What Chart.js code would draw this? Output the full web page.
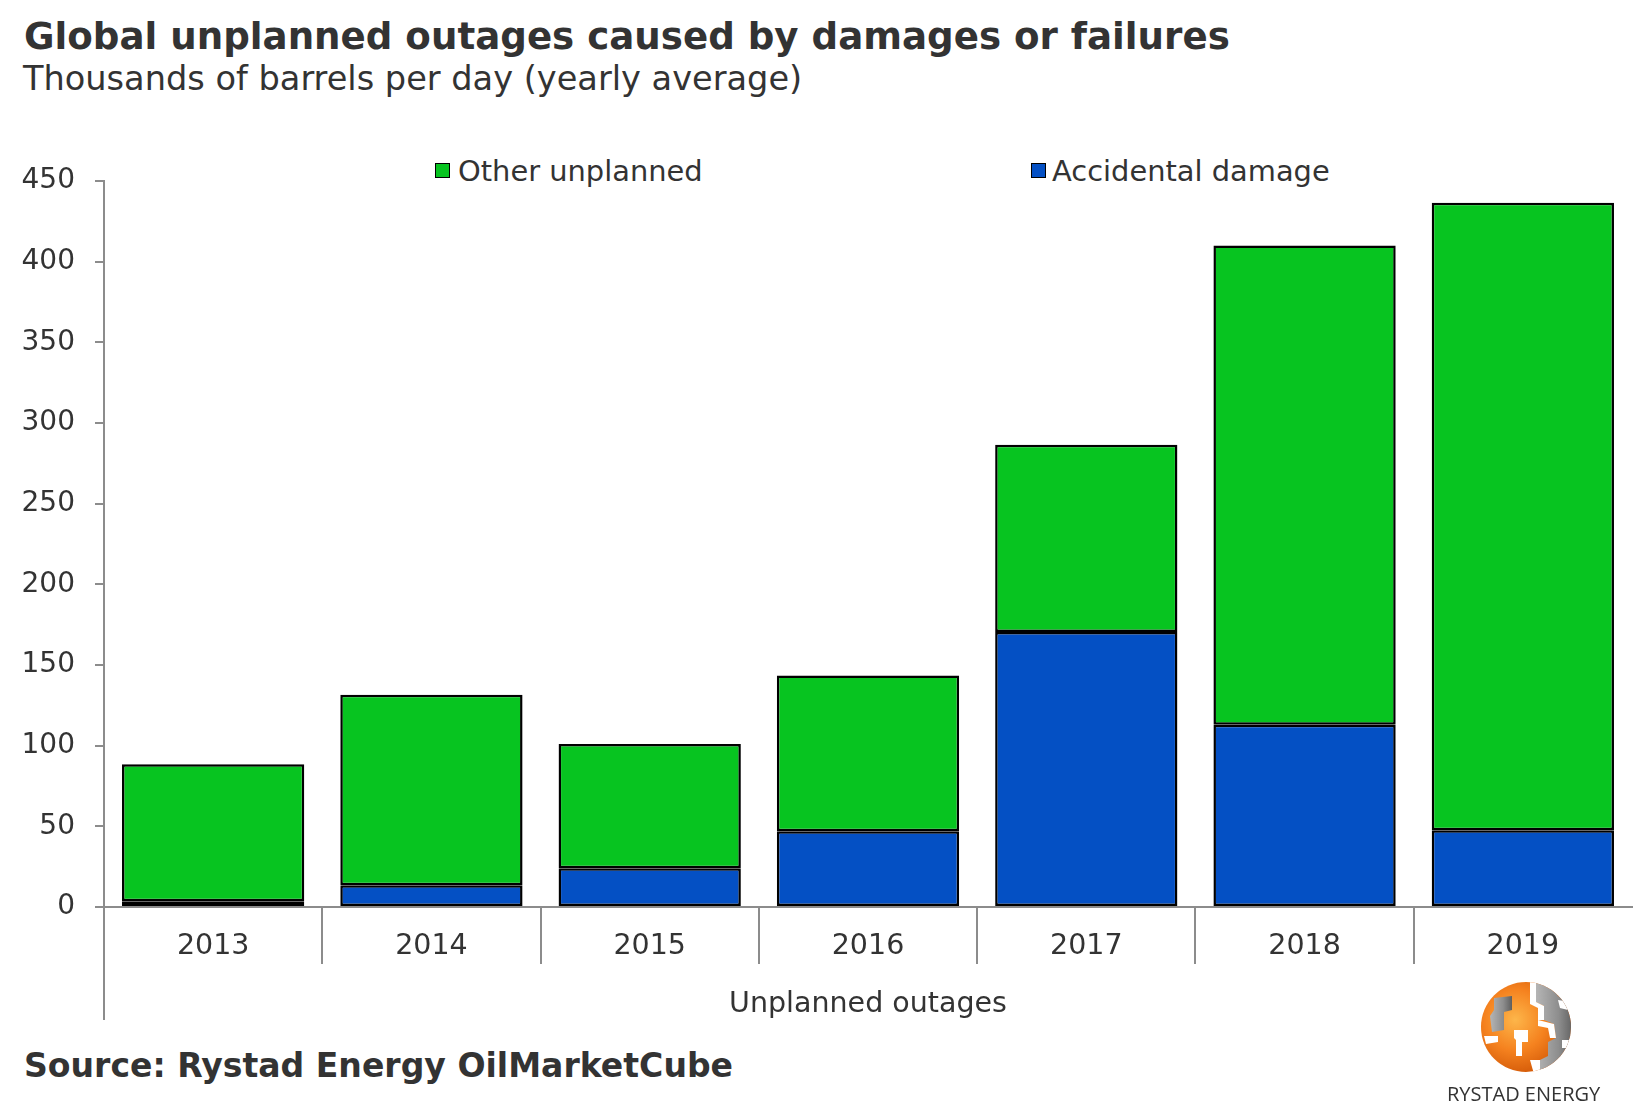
<!DOCTYPE html>
<html>
<head>
<meta charset="utf-8">
<title>Global unplanned outages caused by damages or failures</title>
<script src="https://cdn.jsdelivr.net/npm/chart.js@4.4.0/dist/chart.umd.min.js"></script>
<style>
    html, body { margin: 0; padding: 0; background: #fff; }
    body {
        width: 1633px;
        height: 1105px;
        position: relative;
        overflow: hidden;
        font-family: 'DejaVu Sans', Verdana, sans-serif;
        color: #333;
    }
    .txt { position: absolute; line-height: 1; white-space: nowrap; }
    .title { left: 24px; top: 18px; font-size: 37.2px; font-weight: bold; }
    .subtitle { left: 23px; top: 61.7px; font-size: 33.6px; }
    .source { left: 24px; top: 1049px; font-size: 33.1px; font-weight: bold; }
    .legend-box { position: absolute; width: 13px; height: 13px; border: 1.5px solid #000; }
    .legend-text { font-size: 28.9px; top: 157px; }
    #chartWrap { position: absolute; left: 0; top: 120px; width: 1633px; height: 910px; }
    .brand { left: 1447px; top: 1084px; font-family: 'Open Sans', sans-serif; font-size: 20px; }
</style>
</head>
<body>
<div class="txt title">Global unplanned outages caused by damages or failures</div>
<div class="txt subtitle">Thousands of barrels per day (yearly average)</div>

<div class="legend-box" id="legendOther" style="left:435px; top:163px;"></div>
<div class="txt legend-text" style="left:458px;">Other unplanned</div>
<div class="legend-box" id="legendAccidental" style="left:1031px; top:163px;"></div>
<div class="txt legend-text" style="left:1052px;">Accidental damage</div>

<div id="chartWrap"><canvas id="outagesChart"></canvas></div>

<div class="txt source">Source: Rystad Energy OilMarketCube</div>

<svg style="position:absolute; left:1478px; top:980px;" width="96" height="96" viewBox="0 0 96 96">
    <defs>
        <radialGradient id="orangeGrad" cx="38%" cy="42%" r="62%">
            <stop offset="0" stop-color="#fdb64a"/>
            <stop offset="0.55" stop-color="#f5821f"/>
            <stop offset="1" stop-color="#d45a08"/>
        </radialGradient>
        <linearGradient id="greyGrad" x1="0" y1="0" x2="1" y2="0">
            <stop offset="0" stop-color="#b5b5b5"/>
            <stop offset="0.6" stop-color="#8d8d8d"/>
            <stop offset="1" stop-color="#5e5e5e"/>
        </linearGradient>
        <clipPath id="globeClip"><circle cx="48" cy="47" r="45"/></clipPath>
    </defs>
    <circle cx="48" cy="47" r="45" fill="url(#orangeGrad)"/>
    <g clip-path="url(#globeClip)">
        <polygon points="58,2 74,6 80,16 92,22 96,40 94,62 86,80 70,92 62,94 62,80 70,76 70,62 78,58 76,44 66,40 66,26 58,22" fill="url(#greyGrad)"/>
        <polygon points="16,18 34,16 34,30 26,32 26,50 14,52 12,36 16,30" fill="url(#greyGrad)"/>
        <polygon points="52,2 58,2 58,22 66,26 66,40 60,40 60,28 52,24" fill="#fff"/>
        <polygon points="60,40 76,44 78,58 72,58 70,48 60,46" fill="#fff"/>
        <polygon points="36,50 50,50 50,62 44,62 44,76 38,76 38,60 36,58" fill="#fff"/>
        <polygon points="52,80 62,80 62,94 56,94" fill="#fff"/>
        <polygon points="6,56 20,56 20,62 8,64" fill="#fff"/>
        <polygon points="80,20 92,22 90,30 82,28" fill="#fff"/>
        <polygon points="84,60 96,60 94,68 84,68" fill="#fff"/>
    </g>
</svg>
<div class="txt brand">RYSTAD ENERGY</div>

<script>
// Chart data
const years = ['2013', '2014', '2015', '2016', '2017', '2018', '2019'];
const accidentalDamage = [3.5, 13.5, 24, 47, 170.5, 113, 47.5];
const otherUnplanned = [85, 118, 77, 96.5, 116, 297, 389];
const yTickValues = [0, 50, 100, 150, 200, 250, 300, 350, 400, 450];
const groupLabels = ['Unplanned outages'];

const GREEN = '#07c420';
const BLUE = '#0450c4';
const AXIS_GREY = '#8c8c8c';
const TEXT = '#333333';
const FONT = "'DejaVu Sans', Verdana, sans-serif";

document.addEventListener('DOMContentLoaded', function() {
    document.getElementById('legendOther').style.background = GREEN;
    document.getElementById('legendAccidental').style.background = BLUE;
    initializeOutagesChart();
});

// the closing separator (no tick of its own) sits on the picture's right edge, so hide it
function separatorColor(context) {
    return context.type === 'tick' ? AXIS_GREY : 'rgba(0,0,0,0)';
}

function initializeOutagesChart() {
    const ctx = document.getElementById('outagesChart').getContext('2d');
    new Chart(ctx, {
        type: 'bar',
        data: {
            labels: years,
            datasets: [
                {
                    label: 'Accidental damage',
                    data: accidentalDamage,
                    backgroundColor: BLUE,
                    borderColor: '#000',
                    borderWidth: 2.5,
                    borderSkipped: false,
                    categoryPercentage: 1.0,
                    barPercentage: 0.835
                },
                {
                    label: 'Other unplanned',
                    data: otherUnplanned,
                    backgroundColor: GREEN,
                    borderColor: '#000',
                    borderWidth: 2.5,
                    borderSkipped: false,
                    categoryPercentage: 1.0,
                    barPercentage: 0.835
                }
            ]
        },
        options: {
            responsive: true,
            maintainAspectRatio: false,
            animation: false,
            layout: {
                padding: { top: 61, right: 1, bottom: 12, left: 0 }
            },
            plugins: {
                legend: { display: false },
                title: { display: false },
                tooltip: { enabled: false }
            },
            scales: {
                x: {
                    stacked: true,
                    weight: 0,
                    offset: true,
                    afterFit: function(scale) { scale.height = 56; },
                    grid: {
                        offset: true,
                        drawOnChartArea: false,
                        drawTicks: true,
                        tickLength: 57,
                        color: separatorColor,
                        lineWidth: 2
                    },
                    border: { display: true, color: AXIS_GREY, width: 2 },
                    ticks: {
                        color: TEXT,
                        padding: -35,
                        maxRotation: 0,
                        font: { family: FONT, size: 28.5 }
                    }
                },
                x2: {
                    type: 'category',
                    position: 'bottom',
                    labels: groupLabels,
                    weight: 1,
                    offset: true,
                    afterFit: function(scale) { scale.height = 55; },
                    grid: {
                        offset: true,
                        drawOnChartArea: false,
                        drawTicks: true,
                        tickLength: 57,
                        color: separatorColor,
                        lineWidth: 2
                    },
                    border: { display: false },
                    ticks: {
                        color: TEXT,
                        padding: -33,
                        maxRotation: 0,
                        font: { family: FONT, size: 28.5 }
                    }
                },
                y: {
                    stacked: true,
                    min: 0,
                    max: 450,
                    afterFit: function(scale) { scale.width = 104; },
                    afterBuildTicks: function(scale) {
                        scale.ticks = yTickValues.map(function(v) { return { value: v }; });
                    },
                    grid: {
                        drawOnChartArea: false,
                        drawTicks: true,
                        tickLength: 9,
                        color: AXIS_GREY,
                        lineWidth: 2
                    },
                    border: { display: true, color: AXIS_GREY, width: 2 },
                    ticks: {
                        color: TEXT,
                        padding: 20,
                        font: { family: FONT, size: 28 }
                    }
                }
            }
        }
    });
}
</script>
</body>
</html>
